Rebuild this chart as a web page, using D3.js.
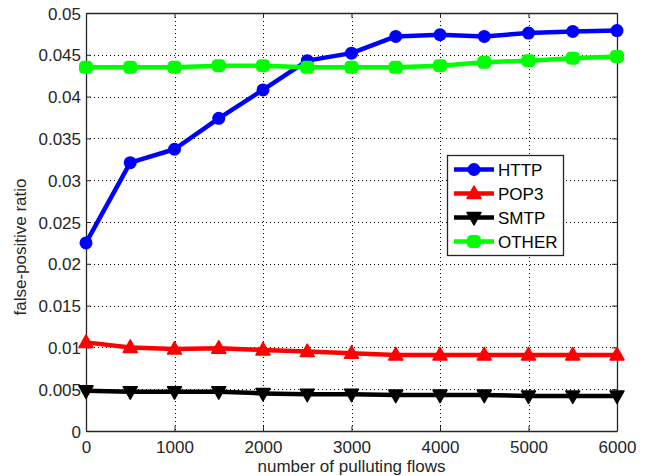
<!DOCTYPE html>
<html>
<head>
<meta charset="utf-8">
<script src="https://cdn.jsdelivr.net/npm/d3@7"></script>
<style>
  html, body { margin: 0; padding: 0; background: #fff; }
  svg { display: block; font-family: "Liberation Sans", Arial, sans-serif; }
</style>
</head>
<body>
<div id="chart"></div>
<script>
// data
const flows = [0, 500, 1000, 1500, 2000, 2500, 3000, 3500, 4000, 4500, 5000, 5500, 6000];
const httpRatio  = [0.0225, 0.0321, 0.0337, 0.0374, 0.0408, 0.0443, 0.0452, 0.0472, 0.0474, 0.0472, 0.0476, 0.0478, 0.0479];
const pop3Ratio  = [0.0106, 0.0100, 0.0098, 0.0099, 0.0097, 0.0095, 0.0093, 0.0091, 0.0091, 0.0091, 0.0091, 0.0091, 0.0091];
const smtpRatio  = [0.0048, 0.0047, 0.0047, 0.0047, 0.0045, 0.0044, 0.0044, 0.0043, 0.0043, 0.0043, 0.0042, 0.0042, 0.0042];
const otherRatio = [0.0435, 0.0435, 0.0435, 0.0437, 0.0437, 0.0435, 0.0435, 0.0435, 0.0437, 0.0441, 0.0443, 0.0446, 0.0448];
const seriesNames = ['HTTP', 'POP3', 'SMTP', 'OTHER'];
const xTicks = [0, 1000, 2000, 3000, 4000, 5000, 6000];
const yTicks = [0, 0.005, 0.01, 0.015, 0.02, 0.025, 0.03, 0.035, 0.04, 0.045, 0.05];

const series = [
  { name: seriesNames[0], values: httpRatio,  color: '#0000ff', marker: 'circle' },
  { name: seriesNames[1], values: pop3Ratio,  color: '#ff0000', marker: 'up' },
  { name: seriesNames[2], values: smtpRatio,  color: '#000000', marker: 'down' },
  { name: seriesNames[3], values: otherRatio, color: '#00ff00', marker: 'square' }
];

const width = 649, height = 476;
const plot = { left: 86, right: 617, top: 13, bottom: 431 };
const axisColor = '#262626';

const x = d3.scaleLinear().domain([0, 6000]).range([plot.left, plot.right]);
const y = d3.scaleLinear().domain([0, 0.05]).range([plot.bottom, plot.top]);

const svg = d3.select('#chart').append('svg')
  .attr('width', width)
  .attr('height', height);

// dotted grid
const grid = svg.append('g').attr('stroke', '#000').attr('stroke-width', 1)
  .attr('stroke-dasharray', '1,3').attr('fill', 'none');
grid.selectAll('.gx').data(xTicks.slice(1, -1)).enter().append('line')
  .attr('x1', d => Math.round(x(d)) + 0.5).attr('x2', d => Math.round(x(d)) + 0.5)
  .attr('y1', plot.top).attr('y2', plot.bottom);
grid.selectAll('.gy').data(yTicks.slice(1, -1)).enter().append('line')
  .attr('y1', d => Math.round(y(d)) + 0.5).attr('y2', d => Math.round(y(d)) + 0.5)
  .attr('x1', plot.left).attr('x2', plot.right);

// axes (matlab-style box with inward ticks)
const yFmt = d => d === 0 ? '0' : String(+d.toFixed(3));
const axisStyle = g => {
  g.selectAll('path').attr('stroke', axisColor).attr('stroke-width', 1.3);
  g.selectAll('line').attr('stroke', axisColor).attr('stroke-width', 1);
  g.selectAll('text').attr('fill', axisColor).style('font-size', '17px');
};

svg.append('g')
  .attr('transform', `translate(0,${plot.bottom})`)
  .call(d3.axisBottom(x).tickValues(xTicks).tickFormat(d3.format('d'))
    .tickSizeInner(-5).tickSizeOuter(0).tickPadding(10))
  .call(axisStyle);
svg.append('g')
  .attr('transform', `translate(0,${plot.top})`)
  .call(d3.axisTop(x).tickValues(xTicks).tickSizeInner(-5).tickSizeOuter(0).tickFormat(''))
  .call(axisStyle);
svg.append('g')
  .attr('transform', `translate(${plot.left},0)`)
  .call(d3.axisLeft(y).tickValues(yTicks).tickFormat(yFmt).tickSizeInner(-5).tickSizeOuter(0).tickPadding(5))
  .call(axisStyle)
  .call(g => g.selectAll('text').attr('dy', '0.36em'));
svg.append('g')
  .attr('transform', `translate(${plot.right},0)`)
  .call(d3.axisRight(y).tickValues(yTicks).tickSizeInner(-5).tickSizeOuter(0).tickFormat(''))
  .call(axisStyle);

// axis titles
svg.append('text')
  .attr('x', (plot.left + plot.right) / 2)
  .attr('y', 472)
  .attr('text-anchor', 'middle')
  .attr('fill', axisColor)
  .style('font-size', '17px')
  .text('number of pulluting flows');
svg.append('text')
  .attr('transform', `translate(26,${(plot.top + plot.bottom) / 2 + 25}) rotate(-90)`)
  .attr('text-anchor', 'middle')
  .attr('fill', axisColor)
  .style('font-size', '17px')
  .text('false-positive ratio');

// markers
function drawMarker(sel, type, color) {
  if (type === 'circle') {
    sel.append('circle').attr('r', 6.5).attr('fill', color);
  } else if (type === 'square') {
    sel.append('rect').attr('x', -7).attr('y', -6.5).attr('width', 14).attr('height', 13)
      .attr('rx', 4.5).attr('fill', color);
  } else if (type === 'up') {
    sel.append('path').attr('d', 'M0,-7.5L7,5L-7,5Z').attr('fill', color)
      .attr('stroke', color).attr('stroke-width', 1.5).attr('stroke-linejoin', 'round');
  } else {
    sel.append('path').attr('d', 'M0,7.5L7,-5L-7,-5Z').attr('fill', color)
      .attr('stroke', color).attr('stroke-width', 1.5).attr('stroke-linejoin', 'round');
  }
}

const line = d3.line().x((d, i) => x(flows[i])).y(d => y(d));
series.forEach(s => {
  const g = svg.append('g');
  g.append('path')
    .attr('d', line(s.values))
    .attr('fill', 'none')
    .attr('stroke', s.color)
    .attr('stroke-width', 4.5)
    .attr('stroke-linejoin', 'round');
  g.selectAll('.m').data(s.values).enter().append('g')
    .attr('transform', (d, i) => `translate(${x(flows[i])},${y(d)})`)
    .each(function () { drawMarker(d3.select(this), s.marker, s.color); });
});

// legend
const legend = svg.append('g').attr('transform', 'translate(447,155)');
legend.append('rect')
  .attr('x', 0.5).attr('y', 0.5).attr('width', 116).attr('height', 100)
  .attr('fill', '#fff').attr('stroke', axisColor).attr('stroke-width', 1.3);
series.forEach((s, i) => {
  const row = legend.append('g').attr('transform', `translate(0,${14.5 + i * 24})`);
  row.append('line').attr('x1', 7).attr('x2', 47).attr('y1', 0).attr('y2', 0)
    .attr('stroke', s.color).attr('stroke-width', 4.5);
  drawMarker(row.append('g').attr('transform', 'translate(27,0)'), s.marker, s.color);
  row.append('text').attr('x', 51).attr('y', 0).attr('dy', '0.36em')
    .attr('fill', '#000').style('font-size', '17px').text(s.name);
});
</script>
</body>
</html>
